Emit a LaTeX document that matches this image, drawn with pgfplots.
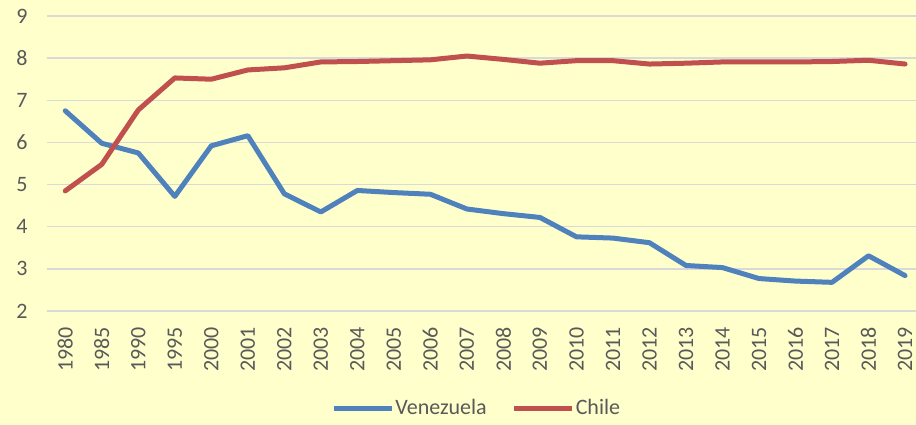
\documentclass[border=0pt]{standalone}
\usepackage{pgfplots}
\pgfplotsset{compat=1.18}
\usepackage{fontspec}
\setmainfont{Carlito}
\definecolor{bgyellow}{HTML}{FFFFCC}
\definecolor{vblue}{HTML}{4F81BD}
\definecolor{cred}{HTML}{C0504D}
\definecolor{gridgray}{HTML}{D9D9D9}
\definecolor{txtgray}{HTML}{595959}
\begin{document}
\begin{tikzpicture}
\fill[bgyellow] (0,0) rectangle (916pt,425pt);
\begin{axis}[
  at={(47pt,114pt)}, anchor=south west,
  scale only axis, width=869pt, height=295pt,
  xmin=-0.5, xmax=23.3, ymin=2, ymax=9,
  ytick={2,3,4,5,6,7,8,9},
  xtick={0,...,23},
  xticklabels={1980,1985,1990,1995,2000,2001,2002,2003,2004,2005,2006,2007,2008,2009,2010,2011,2012,2013,2014,2015,2016,2017,2018,2019},
  axis line style={draw=none},
  major tick length=0pt,
  ymajorgrids, grid style={draw=gridgray, line width=1.5pt},
  /pgf/number format/assume math mode=true,
  tick label style={font=\fontsize{22}{22}\selectfont, text=txtgray},
  x tick label style={rotate=90, anchor=east, inner sep=0pt, font=\fontsize{22}{22}\selectfont},
  xticklabel shift=16pt,
  yticklabel shift=16pt,
  legend columns=2,
  legend style={draw=none, fill=none, at={(0.494,-0.329)}, anchor=center,
    font=\fontsize{22}{22}\selectfont, text=txtgray,
    /tikz/every even column/.append style={column sep=24pt},
    nodes={inner sep=1pt}},
  legend image code/.code={\draw[#1, line width=5pt, line cap=butt] (0pt,0pt) -- (58pt,0pt);},
  every axis plot/.append style={line width=5pt, line cap=round, line join=round},
]
\addplot[vblue] coordinates {
(0,6.75) (1,5.98) (2,5.75) (3,4.72) (4,5.92) (5,6.16) (6,4.78) (7,4.35) (8,4.86) (9,4.81) (10,4.77) (11,4.42) (12,4.31) (13,4.22) (14,3.76) (15,3.73) (16,3.62) (17,3.08) (18,3.03) (19,2.77) (20,2.71) (21,2.68) (22,3.31) (23,2.84)};
\addlegendentry{Venezuela}
\addplot[cred] coordinates {
(0,4.85) (1,5.48) (2,6.77) (3,7.53) (4,7.50) (5,7.72) (6,7.77) (7,7.91) (8,7.92) (9,7.94) (10,7.96) (11,8.05) (12,7.97) (13,7.88) (14,7.94) (15,7.94) (16,7.86) (17,7.88) (18,7.91) (19,7.91) (20,7.91) (21,7.92) (22,7.95) (23,7.86)};
\addlegendentry{Chile}
\end{axis}
\pgfresetboundingbox
\path[use as bounding box] (0,0) rectangle (916pt,425pt);
\end{tikzpicture}
\end{document}
